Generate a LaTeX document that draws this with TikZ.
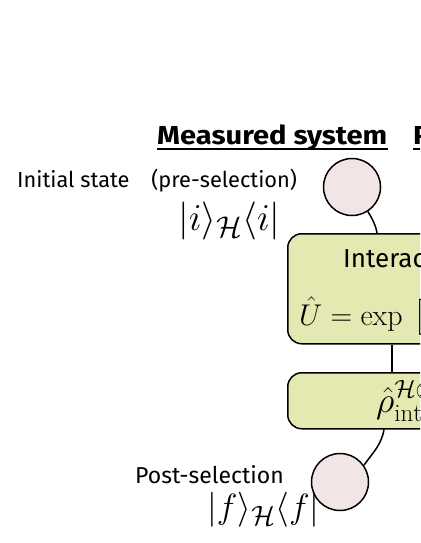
\RequirePackage{fix-cm}
\documentclass[tikz,border=0pt]{standalone}
\usepackage{amsmath,amssymb}
\usepackage{fontspec}
\setsansfont{Fira Sans}
\usetikzlibrary{positioning,calc}
\DeclareMathSizes{38}{38}{30}{22}
\DeclareMathSizes{35}{35}{28}{20}
\DeclareMathSizes{36}{36}{25}{18}
\DeclareMathSizes{30}{30}{21}{15}
\definecolor{Sc}{HTML}{F2E5E5}
\definecolor{Bc}{HTML}{E4E9B1}
\tikzset{
  sel/.style={circle, draw=black, line width=1.5pt, fill=Sc, minimum size=57pt, inner sep=0pt},
  stage/.style={rectangle, rounded corners=14pt, draw=black, line width=1.5pt, fill=Bc, minimum width=320pt, inner sep=0pt},
  lbl/.style={font=\sffamily\fontsize{21.8}{21.8}\selectfont, inner sep=0pt},
  hdr/.style={font=\sffamily\bfseries\fontsize{26}{26}\selectfont, inner sep=0pt},
  ket/.style={font=\fontsize{38}{38}\selectfont, inner sep=0pt},
  link/.style={line width=1.5pt},
}

\begin{document}
\begin{tikzpicture}[x=1pt,y=-1pt]
  \useasboundingbox (0,0) rectangle (420,543);
  \clip (0,0) rectangle (420,543);
  % headers
  \node[hdr, anchor=base west] (ms) at (157,144) {\scalebox{1.12}[1]{Measured system}};
  \node[hdr, anchor=base west] (ps) at (413,144) {\scalebox{1.12}[1]{Probe system}};
  \draw[link] ([yshift=-5pt]ms.base west) -- ([yshift=-5pt]ms.base east);
  \draw[link] ([yshift=-5pt]ps.base west) -- ([yshift=-5pt]ps.base east);
  % pre-selection
  \node[lbl, anchor=base west] (ini) at (17,187) {Initial state\quad(pre-selection)};
  \node[ket, anchor=base west] (iket) at (178,230) {$|i\rangle_{\mathcal{H}}\langle i|$};
  \node[sel] (pre) at (352,187) {};
  % interaction stages
  \node[stage, minimum height=110pt, anchor=north west] (inter) at (287,233) {};
  \node[lbl, font=\sffamily\fontsize{26}{26}\selectfont, anchor=base west] (itxt) at (343,267) {Interaction};
  \node[ket, font=\fontsize{30}{30}\selectfont, anchor=base west] (uop) at (299,325) {$\hat{U}=\exp\hspace{11pt}\bigl[$};
  \node[stage, minimum height=56pt, anchor=north west] (rho) at (287,372) {};
  \node[ket, font=\fontsize{36}{36}\selectfont, anchor=base west] (rtxt) at (376,412) {$\hat{\rho}^{\mathcal{H}\otimes\mathcal{K}}_{\mathrm{int}}$};
  % post-selection
  \node[sel] (post) at (340,482) {};
  \node[lbl, font=\sffamily\fontsize{23}{23}\selectfont, anchor=base west] (pst) at (135,483) {Post-selection};
  \node[ket, font=\fontsize{35}{35}\selectfont, anchor=base west] (fket) at (207,518) {$|f\rangle_{\mathcal{H}}\langle f|$};
  % connectors
  \draw[link] (pre.-57) to[out=-60, in=100] ($(inter.north west)+(90,0)$);
  \draw[link] ($(inter.south west)+(105,0)$) -- ($(rho.north west)+(105,0)$);
  \draw[link] ($(rho.south west)+(97,0)$) to[out=-100, in=55] (post.35);
\end{tikzpicture}
\end{document}
